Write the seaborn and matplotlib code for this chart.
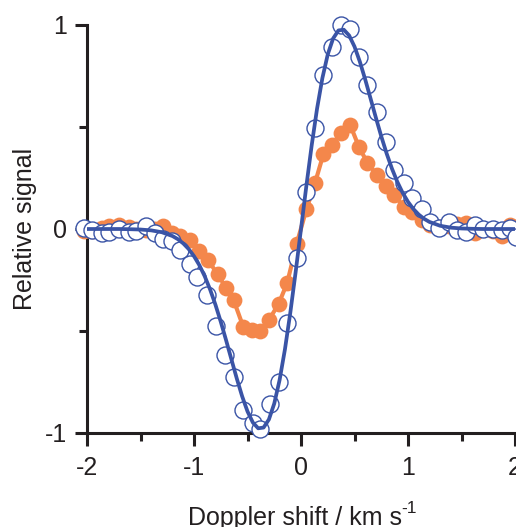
import matplotlib
matplotlib.use("Agg")
import matplotlib.pyplot as plt
import seaborn as sns
import pandas as pd
from matplotlib.ticker import MultipleLocator, FixedLocator, FixedFormatter

# ---- data ----
blue_x = [-2.03, -1.95, -1.86, -1.79, -1.70, -1.61, -1.54, -1.45, -1.36, -1.29,
          -1.21, -1.13, -1.04, -0.97, -0.88, -0.79, -0.71, -0.63, -0.54, -0.45,
          -0.38, -0.29, -0.21, -0.13, -0.04, 0.05, 0.13, 0.21, 0.29, 0.37,
          0.46, 0.54, 0.62, 0.71, 0.79, 0.87, 0.96, 1.04, 1.13, 1.21,
          1.29, 1.38, 1.46, 1.54, 1.63, 1.70, 1.79, 1.88, 1.95, 2.01]
blue_y = [0.003, -0.005, -0.021, -0.013, -0.001, -0.013, -0.008, 0.015, -0.021, -0.050,
          -0.057, -0.103, -0.172, -0.234, -0.324, -0.475, -0.618, -0.724, -0.887, -0.950,
          -0.980, -0.858, -0.748, -0.459, -0.144, 0.183, 0.494, 0.755, 0.894, 1.000,
          0.979, 0.845, 0.706, 0.575, 0.428, 0.289, 0.224, 0.150, 0.097, 0.036,
          0.003, 0.036, -0.005, -0.013, 0.020, -0.001, 0.000, -0.005, 0.003, -0.038]

orange_x = [-2.03, -1.95, -1.86, -1.79, -1.70, -1.61, -1.54, -1.45, -1.36, -1.29,
            -1.21, -1.13, -1.04, -0.95, -0.87, -0.78, -0.70, -0.63, -0.54, -0.46,
            -0.38, -0.30, -0.21, -0.13, -0.04, 0.05, 0.13, 0.21, 0.29, 0.37,
            0.46, 0.54, 0.62, 0.71, 0.79, 0.87, 0.96, 1.04, 1.13, 1.21,
            1.29, 1.38, 1.46, 1.54, 1.63, 1.70, 1.79, 1.88, 1.95, 2.01]
orange_y = [-0.010, -0.010, 0.005, 0.015, 0.020, 0.010, 0.000, -0.005, 0.000, 0.015,
            -0.020, -0.035, -0.055, -0.106, -0.153, -0.220, -0.290, -0.348, -0.479, -0.495,
            -0.500, -0.446, -0.368, -0.266, -0.072, 0.096, 0.224, 0.368, 0.412, 0.469,
            0.510, 0.404, 0.325, 0.265, 0.212, 0.167, 0.109, 0.085, 0.045, 0.020,
            0.010, 0.015, 0.025, 0.028, -0.020, 0.000, -0.010, -0.035, 0.020, 0.010]

fit_x = [-2.0, -1.9, -1.8, -1.7, -1.6, -1.5, -1.4, -1.3, -1.2, -1.15, -1.1, -1.05,
         -1.0, -0.95, -0.9, -0.85, -0.8, -0.75, -0.7, -0.65, -0.6, -0.55, -0.5,
         -0.45, -0.4, -0.35, -0.3, -0.25, -0.2, -0.15, -0.1, -0.05, 0.0,
         0.05, 0.1, 0.15, 0.2, 0.25, 0.3, 0.35, 0.4, 0.45, 0.5, 0.55, 0.6,
         0.65, 0.7, 0.75, 0.8, 0.85, 0.9, 0.95, 1.0, 1.05, 1.1, 1.15, 1.2,
         1.3, 1.4, 1.5, 1.6, 1.7, 1.8, 1.9, 2.0]
fit_y = [0.0, 0.0, 0.0, 0.0, -0.001, -0.0026, -0.0067, -0.0159, -0.0348, -0.0501, -0.0708, -0.0981,
         -0.1332, -0.1773, -0.2314, -0.2959, -0.3706, -0.4545, -0.5453, -0.6398, -0.7332, -0.8202, -0.8942,
         -0.9486, -0.9770, -0.9733, -0.9337, -0.8557, -0.7401, -0.5897, -0.4106, -0.2107, 0.0,
         0.2107, 0.4106, 0.5897, 0.7401, 0.8557, 0.9337, 0.9733, 0.9770, 0.9486, 0.8942, 0.8202, 0.7332,
         0.6398, 0.5453, 0.4545, 0.3706, 0.2959, 0.2314, 0.1773, 0.1332, 0.0981, 0.0708, 0.0501, 0.0348,
         0.0159, 0.0067, 0.0026, 0.001, 0.0, 0.0, 0.0, 0.0]

x_ticks = [-2, -1, 0, 1, 2]
x_ticklabels = ["-2", "-1", "0", "1", "2"]
y_ticks = [-1, 0, 1]
y_ticklabels = ["-1", "0", "1"]
x_label = "Doppler shift / km s"
x_label_sup = "-1"
y_label = "Relative signal"

BLUE = "#3a54a6"
ORANGE = "#f4874b"
DARK = "#231f20"

sns.set_theme(style="white")
plt.rcParams["font.family"] = ["Liberation Sans", "DejaVu Sans"]
plt.rcParams["axes.unicode_minus"] = False

W, H = 516, 527
fig = plt.figure(figsize=(W / 100, H / 100), dpi=100)
ax = fig.add_axes([87 / W, 1 - 433 / H, 428 / W, 408 / H])

df_o = pd.DataFrame({"x": orange_x, "y": orange_y})
df_b = pd.DataFrame({"x": blue_x, "y": blue_y})
df_f = pd.DataFrame({"x": fit_x, "y": fit_y})

sns.lineplot(data=df_o, x="x", y="y", ax=ax, color=ORANGE, lw=3.0, sort=False,
             estimator=None, zorder=2)
sns.scatterplot(data=df_o, x="x", y="y", ax=ax, color=ORANGE, edgecolor=ORANGE,
                s=130, linewidth=0, zorder=3, clip_on=False)
sns.scatterplot(data=df_b, x="x", y="y", ax=ax, facecolor="white", edgecolor=BLUE,
                s=150, linewidth=1.0, zorder=4, clip_on=False)
sns.lineplot(data=df_f, x="x", y="y", ax=ax, color=BLUE, lw=2.7, sort=False,
             estimator=None, zorder=5)

ax.set_xlim(-2, 2)
ax.set_ylim(-1, 1)
ax.xaxis.set_major_locator(FixedLocator(x_ticks))
ax.xaxis.set_major_formatter(FixedFormatter(x_ticklabels))
ax.yaxis.set_major_locator(FixedLocator(y_ticks))
ax.yaxis.set_major_formatter(FixedFormatter(y_ticklabels))
ax.xaxis.set_minor_locator(MultipleLocator(0.5))
ax.yaxis.set_minor_locator(MultipleLocator(0.5))

for side in ["top", "right"]:
    ax.spines[side].set_visible(False)
for side in ["left", "bottom"]:
    ax.spines[side].set_linewidth(2.2)
    ax.spines[side].set_color(DARK)

ax.tick_params(which="major", direction="out", length=9, width=2.2, color=DARK,
               labelsize=18, labelcolor=DARK)
ax.tick_params(which="minor", direction="out", length=5.5, width=2.2, color=DARK)
ax.tick_params(axis="x", which="major", pad=7.5)
ax.tick_params(axis="y", which="major", pad=5.5)
ax.tick_params(axis="both", which="both", bottom=True, left=True)

xl = ax.set_xlabel(x_label, fontsize=18, color=DARK)
ax.set_ylabel(y_label, fontsize=18, color=DARK)
ax.xaxis.set_label_coords((295 - 87) / 428, -0.178)
ax.yaxis.set_label_coords(-0.116, 0.5)
ax.set_facecolor("white")
fig.patch.set_facecolor("white")

fig.canvas.draw()
bb = xl.get_window_extent()
fig.text((bb.x1 - 1) / W, (H - 513) / H, x_label_sup, fontsize=12.5, color=DARK,
         ha="left", va="baseline")

fig.savefig("out.png", dpi=100, facecolor="white")
